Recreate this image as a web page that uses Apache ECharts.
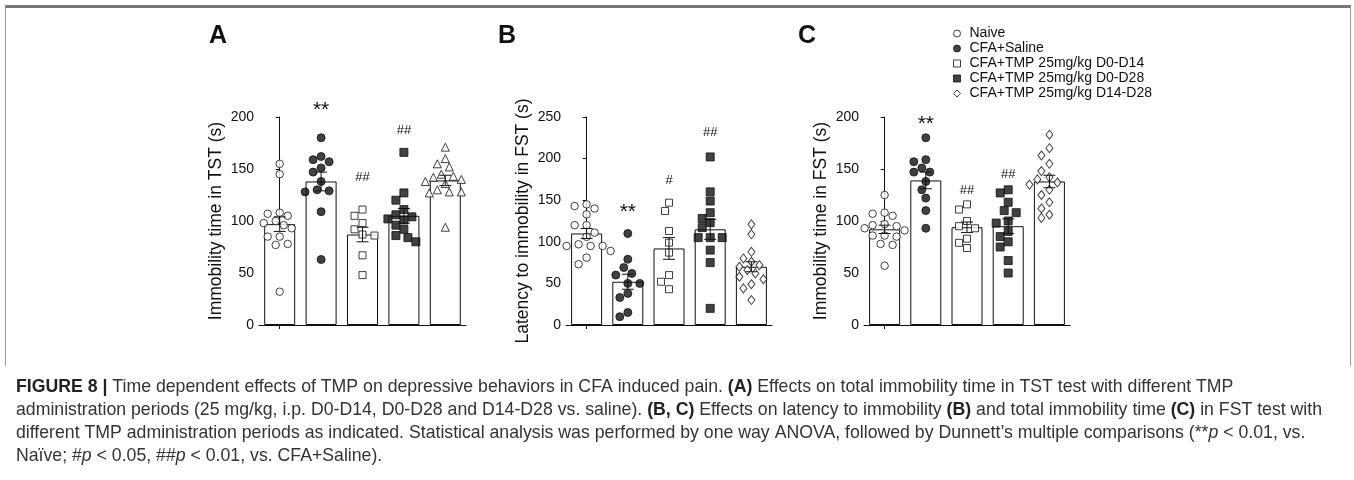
<!DOCTYPE html>
<html><head><meta charset="utf-8">
<script src="https://cdn.jsdelivr.net/npm/echarts@6/dist/echarts.min.js"></script>
<style>html,body{margin:0;padding:0;background:#fff}#c{width:1354px;height:480px}</style>
</head><body><div id="c"></div>
<script>
// ---------- data ----------
const groups = ['Naive', 'CFA+Saline', 'CFA+TMP 25mg/kg D0-D14', 'CFA+TMP 25mg/kg D0-D28', 'CFA+TMP 25mg/kg D14-D28'];

// Panel A: Immobility time in TST (s)
const tstNaive  = [155, 145, 108, 107, 105, 100, 98, 96, 93, 85, 85, 78, 77, 32];
const tstSaline = [180, 162, 159, 157, 151, 147, 138, 130, 129, 128, 109, 63];
const tstD0D14  = [111, 105, 98, 92, 87, 86, 67, 48];
const tstD0D28  = [166, 127, 120, 111, 106, 104, 102, 101, 96, 92, 86, 84, 80];
const tstD14D28 = [171, 160, 155, 152, 145, 143, 142, 140, 138, 136, 130, 128, 128, 127, 94];
const tstMean = [97, 138, 87, 105, 139];
const tstSem  = [7, 9, 7, 7, 5];
const tstMarks   = ['', '**', '##', '##', ''];
const tstMarkAt  = [null, 207, 142, 187, null];

// Panel B: Latency to immobility in FST (s)
const latNaive  = [145, 143, 140, 133, 120, 120, 111, 106, 97, 95, 95, 95, 89, 81, 73];
const latSaline = [110, 79, 69, 62, 60, 50, 50, 38, 33, 15, 10];
const latD0D14  = [147, 137, 113, 99, 87, 60, 52, 43];
const latD0D28  = [202, 160, 149, 135, 128, 123, 117, 105, 105, 105, 90, 75, 20];
const latD14D28 = [121, 109, 88, 80, 76, 72, 70, 66, 62, 58, 55, 49, 44, 30];
const latMean = [110, 52, 92, 115, 70];
const latSem  = [6, 9, 13, 12, 6];
const latMarks  = ['', '**', '#', '##', ''];
const latMarkAt = [null, 136, 174, 231, null];

// Panel C: Immobility time in FST (s)
const fstNaive  = [125, 108, 107, 105, 97, 96, 95, 93, 91, 86, 86, 85, 78, 77, 57];
const fstSaline = [180, 159, 157, 151, 147, 147, 138, 130, 122, 110, 93];
const fstD0D14  = [116, 111, 100, 95, 93, 83, 79, 74];
const fstD0D28  = [130, 127, 118, 110, 108, 100, 98, 90, 85, 80, 75, 62, 50];
const fstD14D28 = [183, 170, 163, 155, 148, 142, 140, 137, 135, 130, 125, 118, 112, 106, 103];
const fstMean = [92, 139, 94, 95, 138];
const fstSem  = [4, 8, 5, 7, 6];
const fstMarks  = ['', '**', '##', '##', ''];
const fstMarkAt = [null, 193, 129, 145, null];

const yTicksA = [0, 50, 100, 150, 200];
const yTicksB = [0, 50, 100, 150, 200, 250];
const yTicksC = [0, 50, 100, 150, 200];

// ---------- layout / style ----------
const FONT = 'Liberation Sans, Arial, Helvetica, sans-serif';
const INK = '#111';
const panels = [
  {letter:'A', letterX:209, left:259, width:207, yName:'Immobility time in TST (s)', ticks:yTicksA,
   groups:[tstNaive, tstSaline, tstD0D14, tstD0D28, tstD14D28], mean:tstMean, sem:tstSem, marks:tstMarks, markAt:tstMarkAt, last:'triangle'},
  {letter:'B', letterX:498, left:566, width:206, yName:'Latency to immobility in FST (s)', ticks:yTicksB,
   groups:[latNaive, latSaline, latD0D14, latD0D28, latD14D28], mean:latMean, sem:latSem, marks:latMarks, markAt:latMarkAt, last:'diamond'},
  {letter:'C', letterX:798, left:864, width:206, yName:'Immobility time in FST (s)', ticks:yTicksC,
   groups:[fstNaive, fstSaline, fstD0D14, fstD0D28, fstD14D28], mean:fstMean, sem:fstSem, marks:fstMarks, markAt:fstMarkAt, last:'diamond'}
];
const TOP = 117, HEIGHT = 208;

function symbolStyle(g, last){
  const open = {color:'#fff', borderColor:INK, borderWidth:1};
  const fill = {color:INK, borderColor:INK, borderWidth:1};
  return [
    {symbol:'circle', size:7.5, style:open},
    {symbol:'circle', size:8, style:fill},
    {symbol:'rect', size:7, style:open},
    {symbol:'rect', size:8, style:fill},
    {symbol:last, size:last==='triangle'?8:[7,9], style:open}
  ][g];
}

// simple beeswarm layout (pixel-space collision avoidance)
function swarm(vals, pxPerUnit, catW){
  const STEP = 4, MIN = 8.5;
  const idx = vals.map((v,i)=>i).sort((a,b)=>vals[b]-vals[a]);
  const placed = [], out = new Array(vals.length);
  for (const i of idx){
    const y = vals[i]*pxPerUnit;
    let chosen = 0;
    for (let k=0;k<60;k++){
      const c = k===0 ? 0 : (k%2 ? -Math.ceil(k/2) : Math.ceil(k/2))*STEP;
      if (placed.every(p=>Math.hypot(p.x-c, p.y-y) >= MIN)){ chosen = c; break; }
    }
    placed.push({x:chosen, y});
    out[i] = chosen/catW;
  }
  return out;
}

const grid=[], xAxis=[], yAxis=[], series=[], graphic=[];
panels.forEach((P, p)=>{
  const ymax = P.ticks[P.ticks.length-1];
  const interval = P.ticks[1]-P.ticks[0];
  grid.push({left:P.left, top:TOP, width:P.width, height:HEIGHT});
  xAxis.push({type:'category', gridIndex:p, data:groups, boundaryGap:true,
    axisLine:{show:true, onZero:false, lineStyle:{color:INK, width:1}},
    axisTick:{show:true, alignWithLabel:true, length:4, lineStyle:{color:INK}},
    axisLabel:{show:false}, splitLine:{show:false}});
  xAxis.push({type:'value', gridIndex:p, min:-0.5, max:4.5, show:false});
  yAxis.push({type:'value', gridIndex:p, min:0, max:ymax, interval:interval,
    name:P.yName, nameLocation:'middle', nameGap:34, nameRotate:90,
    nameTextStyle:{fontFamily:FONT, fontSize:17.5, color:INK},
    axisLine:{show:true, lineStyle:{color:INK, width:1}},
    axisTick:{show:true, length:4, lineStyle:{color:INK}},
    axisLabel:{fontFamily:FONT, fontSize:14, color:INK, margin:5},
    splitLine:{show:false}});
  series.push({type:'bar', xAxisIndex:p*2, yAxisIndex:p, data:P.mean, barWidth:31, silent:true, z:1,
    itemStyle:{color:'#fff', borderColor:INK, borderWidth:1}});
  const pxPerUnit = HEIGHT/ymax, catW = P.width/5;
  P.groups.forEach((vals, g)=>{
    const s = symbolStyle(g, P.last);
    const off = swarm(vals, pxPerUnit, catW);
    series.push({type:'scatter', name:groups[g], xAxisIndex:p*2+1, yAxisIndex:p, z:3, silent:true,
      symbol:s.symbol, symbolSize:s.size, itemStyle:s.style,
      data: vals.map((v,j)=>[g+off[j], v])});
  });
  series.push({type:'custom', xAxisIndex:p*2+1, yAxisIndex:p, z:5, silent:true,
    data: P.mean.map((m,g)=>[g, m, P.sem[g]]),
    renderItem:(params, api)=>{
      const g = api.value(0), m = api.value(1), s = api.value(2);
      const hi = api.coord([g, m+s]), lo = api.coord([g, m-s]);
      const st = {stroke:INK, lineWidth:1};
      return {type:'group', children:[
        {type:'line', shape:{x1:hi[0], y1:hi[1], x2:lo[0], y2:lo[1]}, style:st},
        {type:'line', shape:{x1:hi[0]-6, y1:hi[1], x2:hi[0]+6, y2:hi[1]}, style:st},
        {type:'line', shape:{x1:lo[0]-6, y1:lo[1], x2:lo[0]+6, y2:lo[1]}, style:st}
      ]};
    }});
  const markItems = P.marks.map((t,g)=>[g, P.markAt[g], t]).filter(d=>d[2]);
  series.push({type:'custom', xAxisIndex:p*2+1, yAxisIndex:p, z:6, silent:true,
    data: markItems,
    renderItem:(params, api)=>{
      const item = markItems[params.dataIndex];
      const pt = api.coord([item[0], item[1]]);
      const star = item[2].indexOf('*')>=0;
      return {type:'text', x:pt[0], y:pt[1], style:{text:item[2], align:'center', verticalAlign:'middle',
        font: star ? ('21px '+FONT) : ('13px '+FONT), fill:INK}};
    }});
  graphic.push({type:'text', left:P.letterX, top:24, style:{text:P.letter, font:'bold 25px '+FONT, fill:INK}});
});

// frame
graphic.push({type:'rect', shape:{x:5, y:5, width:1346, height:3}, style:{fill:'#777'}});
graphic.push({type:'line', shape:{x1:5.5, y1:6, x2:5.5, y2:366}, style:{stroke:'#999', lineWidth:1}});
graphic.push({type:'line', shape:{x1:1350.5, y1:6, x2:1350.5, y2:366}, style:{stroke:'#999', lineWidth:1}});

// caption
const CAP = 17.7;
const caption =
 '{b|FIGURE 8 |} Time dependent effects of TMP on depressive behaviors in CFA induced pain. {b|(A)} Effects on total immobility time in TST test with different TMP\n' +
 'administration periods (25 mg/kg, i.p. D0-D14, D0-D28 and D14-D28 vs. saline). {b|(B, C)} Effects on latency to immobility {b|(B)} and total immobility time {b|(C)} in FST test with\n' +
 'different TMP administration periods as indicated. Statistical analysis was performed by one way ANOVA, followed by Dunnett\u2019s multiple comparisons (**{i|p} < 0.01, vs.\n' +
 'Na\u00efve; #{i|p} < 0.05, ##{i|p} < 0.01, vs. CFA+Saline).';
graphic.push({type:'text', left:16, top:376, style:{text:caption, font:CAP+'px '+FONT, fill:'#333', lineHeight:23,
  rich:{b:{fontWeight:'bold', fontFamily:FONT, fontSize:CAP, fill:'#222', lineHeight:23},
        i:{fontStyle:'italic', fontFamily:FONT, fontSize:CAP, fill:'#333', lineHeight:23}}}});

const legendIcons = ['circle','circle','rect','rect','diamond'];
const legendFill = ['#fff', INK, '#fff', INK, '#fff'];
const option = {
  backgroundColor:'#fff', animation:false,
  grid, xAxis, yAxis, series, graphic,
  legend:{orient:'vertical', left:948, top:21, itemWidth:7, itemHeight:7, itemGap:0, selectedMode:false,
    textStyle:{fontFamily:FONT, fontSize:14, color:INK, lineHeight:15, padding:[0,0,0,4]},
    data: groups.map((n,i)=>({name:n, icon:legendIcons[i], itemStyle:{color:legendFill[i], borderColor:INK, borderWidth:1}}))}
};
const chart = echarts.init(document.getElementById('c'), null, {renderer:'canvas'});
chart.setOption(option);
</script></body></html>
